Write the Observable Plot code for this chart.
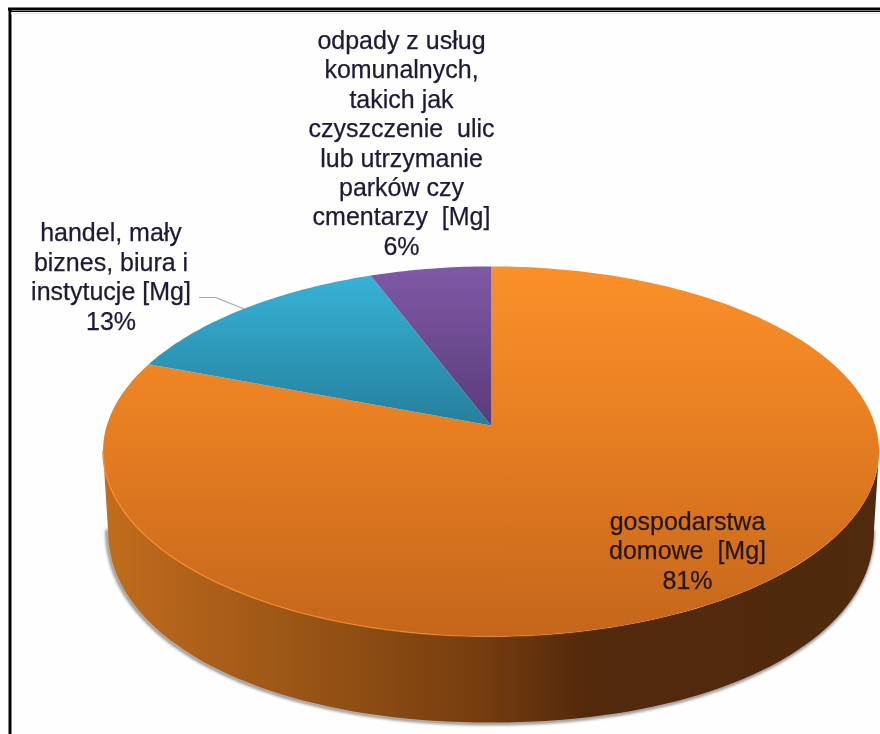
<!DOCTYPE html>
<html>
<head>
<meta charset="utf-8">
<script src="https://cdn.jsdelivr.net/npm/d3@7"></script>
<script src="https://cdn.jsdelivr.net/npm/@observablehq/plot@0.6"></script>
<style>
html,body{margin:0;padding:0;background:#fff;}
svg{display:block;}
.soft{filter:blur(0.5px);}
.shadow{filter:blur(1.8px);}
.edge{filter:blur(0.6px);}
</style>
</head>
<body>
<div id="chart"></div>
<script>
// Data
const categories = ["gospodarstwa domowe [Mg]", "handel, mały biznes, biura i instytucje [Mg]", "odpady z usług komunalnych, takich jak czyszczenie ulic lub utrzymanie parków czy cmentarzy [Mg]"];
const shares = [81, 13, 6];
const labelLines = [
  "gospodarstwa\ndomowe  [Mg]\n81%",
  "handel, mały\nbiznes, biura i\ninstytucje [Mg]\n13%",
  "odpady z usług\nkomunalnych,\ntakich jak\nczyszczenie  ulic\nlub utrzymanie\nparków czy\ncmentarzy  [Mg]\n6%"
];

// Layout of the perspective disc
const W = 880, H = 734;
const cx = 490.5, cy = 451, rx = 388, ry = 185, pv = 0.14, apexLift = 26, warp = 0.85;
const bx = 490.5, by = 529, brx = 383, bry = 193, bn = 2.1;
const labelAt = [[687, 549.5], [110.5, 275.5], [401, 142]];
const fills = ["url(#gOrange)", "url(#gBlue)", "url(#gPurple)"];

const proj = (deg) => {
  const d = deg - warp * Math.sin(4 * deg * Math.PI / 180);
  const a = d * Math.PI / 180, c = Math.cos(a), s = Math.sin(a), w = 1 + pv * c;
  const C = rx * Math.sqrt(1 - pv * pv);
  return {x: cx + C * s / w, y: cy - (ry * c + apexLift) / w};
};
const apex = {x: cx, y: cy - apexLift};

// Slices built from the shares
let acc = 0;
const slices = shares.map((v, i) => {
  const a0 = acc / 100 * 360; acc += v; const a1 = acc / 100 * 360;
  const pts = [apex];
  const n = Math.ceil(a1 - a0);
  for (let k = 0; k <= n; k++) pts.push(proj(a0 + (a1 - a0) * k / n));
  return {name: categories[i], pts, fill: fills[i], mid: (a0 + a1) / 2};
});

// Side wall and underside
const arcB = d3.range(180, 361, 2).map(t => {
  const a = t * Math.PI / 180, c = Math.cos(a), s = Math.sin(a);
  return {x: bx + brx * Math.sign(c) * Math.pow(Math.abs(c), 2 / bn), y: by + bry * Math.pow(Math.abs(s), 2 / bn)};
});
const arcT = d3.range(360, 179, -2).map(t => {
  const a = t * Math.PI / 180;
  return {x: cx + rx * Math.cos(a), y: cy - ry * Math.sin(a)};
});
const wall = [...arcB, ...arcT];
const rim = arcT.slice().reverse().filter(d => d.x < 680);

const anchor = proj(slices[1].mid);
const leader = [{x: 199, y: 297}, {x: 215, y: 297}, anchor];

const defs = () => {
  const d = d3.create("svg:defs");
  const grad = (id, attrs, stops) => {
    const g = d.append("linearGradient").attr("id", id).attr("gradientUnits", "userSpaceOnUse")
      .attr("x1", attrs.x1).attr("x2", attrs.x2).attr("y1", attrs.y1).attr("y2", attrs.y2);
    stops.forEach(([o, c, op]) => g.append("stop").attr("offset", o).attr("stop-color", c).attr("stop-opacity", op ?? 1));
  };
  grad("gOrange", {x1: 0, x2: 0, y1: 266, y2: 636}, [[0, "#fb9029"], [0.42, "#e87f22"], [1, "#c4661b"]]);
  grad("gBlue", {x1: 0, x2: 0, y1: 276, y2: 425}, [[0, "#37b2d6"], [1, "#257f9c"]]);
  grad("gPurple", {x1: 0, x2: 0, y1: 266, y2: 425}, [[0, "#7f59a6"], [1, "#5a3b78"]]);
  grad("gWall", {x1: 103, x2: 880, y1: 0, y2: 0}, [[0, "#c26d1d"], [0.125, "#ae601a"], [0.25, "#9a5515"], [0.485, "#763d0f"], [0.62, "#53290c"], [1, "#4f2a0d"]]);
  grad("gRim", {x1: 103, x2: 680, y1: 0, y2: 0}, [[0, "#f78c2a"], [0.55, "#ee8628", 0.7], [1, "#e07a20", 0]]);
  return d.node();
};

const chart = Plot.plot({
  width: W, height: H, margin: 0,
  x: {domain: [0, W], range: [0, W], axis: null},
  y: {domain: [0, H], range: [0, H], axis: null},
  style: {background: "#fefefe", overflow: "hidden"},
  marks: [
    defs,
    // frame
    Plot.ruleX([9.5], {y1: 8, y2: H, stroke: "#000", strokeWidth: 3}),
    Plot.ruleY([8.5], {x1: 8, x2: W, stroke: "#000", strokeWidth: 3}),
    Plot.ruleY([11], {x1: 10, x2: W, stroke: "#000", strokeWidth: 1}),
    Plot.ruleY([13], {x1: 11, x2: W, stroke: "#ececec", strokeWidth: 2}),
    // soft shadow beneath the wall
    Plot.line(arcB, {x: "x", y: "y", stroke: "#808080", strokeWidth: 3, className: "shadow", dx: -1, dy: 1}),
    // wall
    Plot.line(wall, {x: "x", y: "y", fill: "url(#gWall)", stroke: "none", curve: "linear-closed", className: "edge"}),
    // slices
    ...slices.map(s => Plot.line(s.pts, {x: "x", y: "y", fill: s.fill, stroke: "none", curve: "linear-closed", className: "edge"})),
    // bright rim
    Plot.line(rim, {x: "x", y: "y", stroke: "url(#gRim)", strokeWidth: 1.4, className: "edge"}),
    // leader line
    Plot.line(leader, {x: "x", y: "y", stroke: "#a6a6a6", strokeWidth: 1.2}),
    // labels
    ...labelLines.map((t, i) => Plot.text([t], {
      x: labelAt[i][0], y: labelAt[i][1], text: d => d,
      fontFamily: "Liberation Sans, Arial, sans-serif", fontSize: 25, lineHeight: 1.176,
      textAnchor: "middle", lineAnchor: "middle",
      fill: i === 0 ? "#24160c" : "#1c1a34", stroke: i === 0 ? "#24160c" : "#1c1a34", strokeWidth: 0.25, className: "soft"
    }))
  ]
});
document.getElementById("chart").appendChild(chart);
</script>
</body>
</html>
